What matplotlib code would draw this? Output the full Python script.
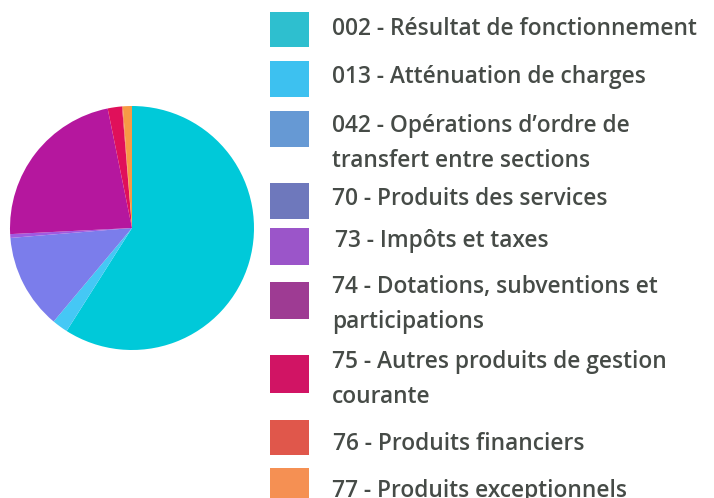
import matplotlib.pyplot as plt
from matplotlib.patches import Rectangle

labels = [
    "002 - Résultat de fonctionnement",
    "013 - Atténuation de charges",
    "042 - Opérations d’ordre de\ntransfert entre sections",
    "70 - Produits des services",
    "73 - Impôts et taxes",
    "74 - Dotations, subventions et\nparticipations",
    "75 - Autres produits de gestion\ncourante",
    "76 - Produits financiers",
    "77 - Produits exceptionnels",
]
shares = [59.0, 2.1, 0.0, 12.6, 0.5, 22.6, 1.9, 0.1, 1.2]
pie_colors = ["#00c9d9", "#45c8f5", "#6e9fe0", "#7b7deb", "#a05ae0",
              "#b5179e", "#e0105a", "#f05a4a", "#f79a45"]
legend_colors = ["#2ebfcf", "#3dc1f0", "#6699d4", "#6e78bc", "#9b55c9",
                 "#9e3b93", "#d11464", "#e0574b", "#f59053"]

W, H = 714, 498
fig = plt.figure(figsize=(W / 100, H / 100), dpi=100)

# pie, centre (132, 228) px, radius 122 px
cx, cy, r = 132, 228, 122
ax = fig.add_axes([(cx - r) / W, (H - cy - r) / H, 2 * r / W, 2 * r / H])
ax.pie(shares, colors=pie_colors, startangle=90, counterclock=False,
       radius=1, wedgeprops=dict(linewidth=0))
ax.set_xlim(-1, 1)
ax.set_ylim(-1, 1)
ax.set_aspect("auto")
ax.axis("off")

# hand-made legend
box_tops = [12, 61, 111, 183, 228, 282, 355, 420, 468]
box_h = [35, 36, 36, 36, 37, 37, 38, 35, 35]
baselines = [35, 83, 132, 205, 247, 293, 368, 450, 497]
text_x = [332, 332, 332, 332, 335, 332, 332, 333, 332]
line_gap = 35
for i, lab in enumerate(labels):
    fig.patches.append(Rectangle((270 / W, 1 - (box_tops[i] + box_h[i]) / H),
                                 39 / W, box_h[i] / H,
                                 transform=fig.transFigure,
                                 facecolor=legend_colors[i], edgecolor="none"))
    for j, line in enumerate(lab.split("\n")):
        fig.text(text_x[i] / W, 1 - (baselines[i] + j * line_gap) / H, line,
                 fontsize=16.4, family="Open Sans", fontweight=600,
                 color="#464b47", va="baseline", ha="left")

fig.savefig("out.png", dpi=100)
